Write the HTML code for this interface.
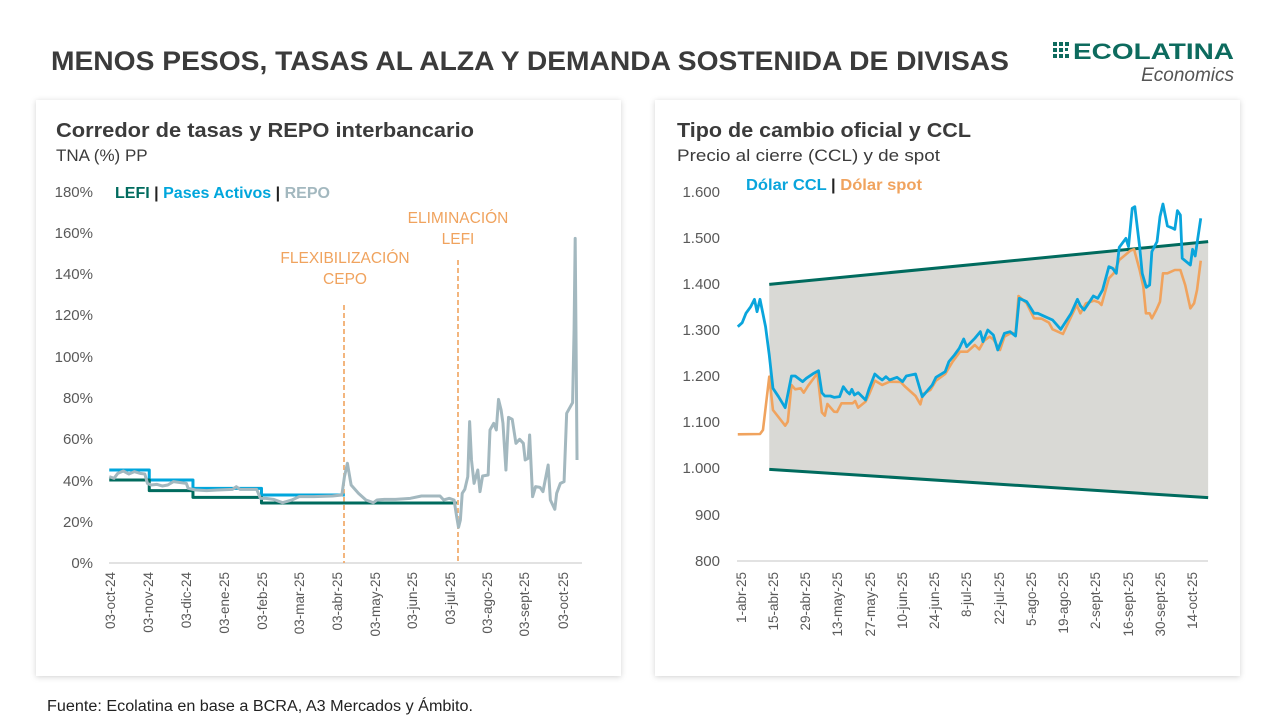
<!DOCTYPE html>
<html><head><meta charset="utf-8"><style>
body{margin:0;background:#fff;}
svg{display:block;font-family:"Liberation Sans",sans-serif;}
</style></head><body>
<svg width="1280" height="720" viewBox="0 0 1280 720" xmlns="http://www.w3.org/2000/svg">
<defs>
<filter id="sh" x="-5%" y="-5%" width="110%" height="110%"><feDropShadow dx="0" dy="1" stdDeviation="3" flood-color="#000" flood-opacity="0.18"/></filter>
</defs>
<rect width="1280" height="720" fill="#fff"/>
<text x="51" y="70" font-size="27" font-weight="bold" fill="#3b3b3b" textLength="958" lengthAdjust="spacingAndGlyphs">MENOS PESOS, TASAS AL ALZA Y DEMANDA SOSTENIDA DE DIVISAS</text>
<!-- logo -->
<g fill="#0d6b5e">
<rect x="1053" y="42" width="4" height="4"/><rect x="1059" y="42" width="4" height="4"/><rect x="1065" y="42" width="4" height="4"/>
<rect x="1053" y="48" width="4" height="4"/><rect x="1059" y="48" width="4" height="4"/><rect x="1065" y="48" width="3" height="3"/>
<rect x="1053" y="54" width="4" height="4"/><rect x="1059" y="54" width="4" height="4"/><rect x="1065" y="54" width="4" height="4"/>
</g>
<text x="1073" y="59" font-size="22" font-weight="bold" fill="#0d6b5e" textLength="161" lengthAdjust="spacingAndGlyphs">ECOLATINA</text>
<text x="1234" y="81" font-size="19" font-style="italic" fill="#555" text-anchor="end">Economics</text>

<rect x="36" y="100" width="585" height="576" fill="#fff" filter="url(#sh)"/>
<rect x="655" y="100" width="585" height="576" fill="#fff" filter="url(#sh)"/>

<!-- Left panel -->
<text x="56" y="137" font-size="20" font-weight="bold" fill="#3b3b3b" textLength="418" lengthAdjust="spacingAndGlyphs">Corredor de tasas y REPO interbancario</text>
<text x="56" y="161" font-size="17" fill="#3b3b3b">TNA (%) PP</text>
<g font-size="15" fill="#595959" text-anchor="end">
<text x="93" y="197">180%</text><text x="93" y="238">160%</text><text x="93" y="279">140%</text><text x="93" y="320">120%</text><text x="93" y="362">100%</text><text x="93" y="403">80%</text><text x="93" y="444">60%</text><text x="93" y="486">40%</text><text x="93" y="527">20%</text><text x="93" y="568">0%</text>
</g>
<line x1="109" y1="563" x2="582" y2="563" stroke="#d9d9d9" stroke-width="1.5"/>
<text x="115" y="198" font-size="16" font-weight="bold" textLength="215" lengthAdjust="spacingAndGlyphs"><tspan fill="#006b5e">LEFI</tspan><tspan fill="#222"> | </tspan><tspan fill="#00a6dc">Pases Activos</tspan><tspan fill="#222"> | </tspan><tspan fill="#a3b8bf">REPO</tspan></text>
<g font-size="15.5" fill="#f0a35e" text-anchor="middle">
<text x="345" y="263">FLEXIBILIZACIÓN</text><text x="345" y="284">CEPO</text>
<text x="458" y="223">ELIMINACIÓN</text><text x="458" y="244">LEFI</text>
</g>
<line x1="344" y1="305" x2="344" y2="563" stroke="#f0a35e" stroke-width="1.6" stroke-dasharray="5,3"/>
<line x1="458" y1="260" x2="458" y2="563" stroke="#f0a35e" stroke-width="1.6" stroke-dasharray="5,3"/>
<g font-size="13.5" fill="#595959" text-anchor="end">
<text transform="translate(115,572) rotate(-90)">03-oct-24</text>
<text transform="translate(153,572) rotate(-90)">03-nov-24</text>
<text transform="translate(191,572) rotate(-90)">03-dic-24</text>
<text transform="translate(229,572) rotate(-90)">03-ene-25</text>
<text transform="translate(267,572) rotate(-90)">03-feb-25</text>
<text transform="translate(304,572) rotate(-90)">03-mar-25</text>
<text transform="translate(342,572) rotate(-90)">03-abr-25</text>
<text transform="translate(380,572) rotate(-90)">03-may-25</text>
<text transform="translate(417,572) rotate(-90)">03-jun-25</text>
<text transform="translate(455,572) rotate(-90)">03-jul-25</text>
<text transform="translate(492,572) rotate(-90)">03-ago-25</text>
<text transform="translate(529,572) rotate(-90)">03-sept-25</text>
<text transform="translate(568,572) rotate(-90)">03-oct-25</text>
</g>
<g transform="translate(40,170) scale(0.37037,0.33333)" fill="none" stroke-linejoin="round">
<polyline vector-effect="non-scaling-stroke" stroke="#00a6dc" stroke-width="3" points="187,900 295,900 295,930 413,930 413,955 598,955 598,975 823,975"/>
<polyline vector-effect="non-scaling-stroke" stroke="#006b5e" stroke-width="3" points="187,930 295,930 295,962 413,962 413,982 598,982 598,999 1125,999"/>
<polyline vector-effect="non-scaling-stroke" stroke="#a3b8bf" stroke-width="3" points="187,920 200,925 210,910 225,903 240,912 255,905 270,910 283,912 290,940 300,945 315,943 330,948 345,945 360,935 375,937 395,940 400,955 420,960 450,962 480,960 520,958 530,950 540,958 585,958 595,985 610,985 630,988 655,998 680,990 700,980 740,980 790,978 815,975 822,920 830,880 840,945 860,970 880,990 900,998 910,990 930,988 960,988 1000,985 1030,978 1050,978 1080,978 1090,990 1105,985 1118,990 1125,1040 1130,1072 1135,1050 1140,970 1147,958 1155,920 1160,755 1165,870 1172,940 1182,900 1188,965 1195,918 1210,915 1215,780 1225,760 1232,780 1238,688 1245,720 1250,760 1258,900 1265,742 1275,748 1285,820 1295,808 1305,820 1310,870 1318,865 1322,795 1330,980 1338,950 1350,952 1358,965 1372,885 1378,990 1390,1018 1395,970 1405,940 1415,935 1422,730 1438,698 1442,480 1445,205 1450,870"/>
</g>

<!-- Right panel -->
<text x="677" y="137" font-size="20" font-weight="bold" fill="#3b3b3b" textLength="294" lengthAdjust="spacingAndGlyphs">Tipo de cambio oficial y CCL</text>
<text x="677" y="161" font-size="17" fill="#3b3b3b" textLength="263" lengthAdjust="spacingAndGlyphs">Precio al cierre (CCL) y de spot</text>
<g font-size="15" fill="#595959" text-anchor="end">
<text x="720" y="197">1.600</text><text x="720" y="243">1.500</text><text x="720" y="289">1.400</text><text x="720" y="335">1.300</text><text x="720" y="381">1.200</text><text x="720" y="427">1.100</text><text x="720" y="473">1.000</text><text x="720" y="520">900</text><text x="720" y="566">800</text>
</g>
<line x1="737" y1="561" x2="1208" y2="561" stroke="#d9d9d9" stroke-width="1.5"/>
<text x="746" y="190" font-size="16" font-weight="bold" textLength="176" lengthAdjust="spacingAndGlyphs"><tspan fill="#0aa5dc">Dólar CCL</tspan><tspan fill="#222"> | </tspan><tspan fill="#f0a35e">Dólar spot</tspan></text>
<g font-size="13.5" fill="#595959" text-anchor="end">
<text transform="translate(746,572) rotate(-90)">1-abr-25</text>
<text transform="translate(778,572) rotate(-90)">15-abr-25</text>
<text transform="translate(810,572) rotate(-90)">29-abr-25</text>
<text transform="translate(842,572) rotate(-90)">13-may-25</text>
<text transform="translate(875,572) rotate(-90)">27-may-25</text>
<text transform="translate(907,572) rotate(-90)">10-jun-25</text>
<text transform="translate(939,572) rotate(-90)">24-jun-25</text>
<text transform="translate(971,572) rotate(-90)">8-jul-25</text>
<text transform="translate(1004,572) rotate(-90)">22-jul-25</text>
<text transform="translate(1036,572) rotate(-90)">5-ago-25</text>
<text transform="translate(1068,572) rotate(-90)">19-ago-25</text>
<text transform="translate(1100,572) rotate(-90)">2-sept-25</text>
<text transform="translate(1133,572) rotate(-90)">16-sept-25</text>
<text transform="translate(1165,572) rotate(-90)">30-sept-25</text>
<text transform="translate(1197,572) rotate(-90)">14-oct-25</text>
</g>
<g transform="translate(660,170) scale(0.37037,0.33333)" fill="none" stroke-linejoin="round">
<polygon points="295,343 1480,215 1480,983 295,898" fill="#d9d9d5" stroke="none"/>
<polyline vector-effect="non-scaling-stroke" stroke="#006b5e" stroke-width="3" points="295,343 1480,215"/>
<polyline vector-effect="non-scaling-stroke" stroke="#006b5e" stroke-width="3" points="295,898 1480,983"/>
<polyline vector-effect="non-scaling-stroke" stroke="#f0a35e" stroke-width="2.6" points="210,793 270,792 278,780 295,620 305,720 338,767 345,755 355,645 365,658 380,655 388,668 400,647 425,610 437,727 445,737 452,702 470,725 478,726 490,700 520,700 527,693 535,713 555,695 565,672 580,632 600,645 620,635 650,636 660,648 690,678 703,703 710,672 730,660 745,632 770,612 790,575 810,545 830,545 850,525 862,538 875,512 890,500 900,508 918,540 930,500 950,488 960,492 968,378 990,400 1010,445 1030,446 1050,458 1060,478 1088,492 1110,440 1125,405 1135,430 1150,400 1172,392 1185,397 1192,405 1212,325 1225,310 1240,270 1270,242 1280,238 1295,300 1305,350 1312,430 1322,430 1328,445 1340,420 1350,395 1358,310 1370,310 1390,300 1405,300 1418,345 1432,415 1442,400 1450,360 1460,272"/>
<polyline vector-effect="non-scaling-stroke" stroke="#0aa5dc" stroke-width="2.8" points="210,470 222,458 232,430 245,410 255,388 262,425 270,388 285,470 295,555 305,655 320,680 338,713 355,618 365,618 385,635 395,625 415,610 428,602 437,668 445,678 460,678 470,682 485,680 495,650 505,665 512,672 518,658 525,675 535,668 555,690 565,655 580,612 590,622 600,630 610,620 620,630 640,622 655,635 665,618 690,612 708,680 735,645 745,622 770,605 780,575 795,555 808,535 820,507 828,530 850,505 865,485 872,515 885,480 900,495 912,540 930,490 945,485 960,498 970,385 990,395 1010,430 1020,430 1040,440 1060,450 1082,478 1110,430 1127,388 1135,407 1145,420 1160,395 1170,378 1182,385 1195,360 1212,290 1222,295 1232,310 1240,232 1258,205 1265,230 1275,115 1282,110 1295,230 1302,310 1313,352 1322,345 1328,245 1342,215 1350,140 1358,102 1370,168 1385,175 1390,178 1397,122 1405,135 1410,265 1432,285 1438,238 1445,258 1460,145"/>
</g>

<text x="47" y="711" font-size="15.5" fill="#222" textLength="426" lengthAdjust="spacingAndGlyphs">Fuente: Ecolatina en base a BCRA, A3 Mercados y Ámbito.</text>
</svg>
</body></html>
